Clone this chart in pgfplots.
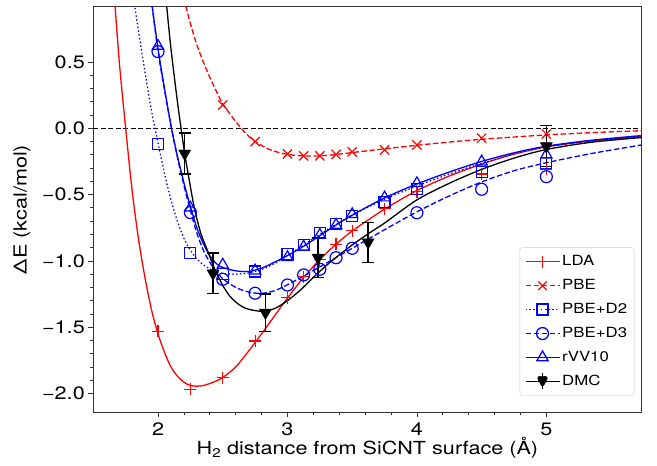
\documentclass[border=0pt]{standalone}
\usepackage{fontspec}
\setmainfont{TeX Gyre Heros}[FakeStretch=1.2]
\usepackage{pgfplots}
\pgfplotsset{compat=1.18}
\begin{document}
\begin{tikzpicture}
\useasboundingbox (0,0) rectangle (657pt,466pt);
\begin{axis}[
  at={(93.3pt,53.7pt)}, anchor=south west,
  scale only axis, width=548.2pt, height=405.6pt,
  xmin=1.5, xmax=5.735, ymin=-2.142, ymax=0.917,
  axis line style={black!80, line width=0.8pt},
  tick align=outside, tick pos=left,
  major tick length=5pt, minor tick length=2.8pt,
  every tick/.style={black!80, line width=0.7pt},
  xtick={2,3,4,5}, xticklabels={2,3,4,5},
  ytick={-2,-1.5,-1,-0.5,0,0.5}, yticklabels={−2.0,−1.5,−1.0,−0.5,0.0,0.5},
  minor x tick num=4, minor y tick num=4,
  ticklabel style={font=\fontsize{18}{20}\selectfont},
  xticklabel style={yshift=-2pt},
  xlabel={H\textsubscript{2} distance from SiCNT surface (Å)},
  ylabel={ΔE (kcal/mol)},
  label style={font=\fontsize{18}{20}\selectfont},
  xlabel style={at={(axis description cs:0.5,-0.105)}, anchor=base},
  ylabel style={at={(axis description cs:-0.13,0.5)}, anchor=center},
  legend style={at={(0.9869,0.0402)}, anchor=south east, draw=black!20, rounded corners=3pt, fill=white,
    font=\fontsize{14}{16}\selectfont, inner xsep=5pt, inner ysep=4pt, row sep=3pt,
    nodes={text height=11pt, text depth=3.5pt, inner ysep=3.2pt},
    /tikz/every even column/.append style={column sep=9pt}},
  legend cell align=left,
  legend image code/.code={\draw[mark repeat=2,mark phase=2,#1] plot coordinates {(0pt,0pt) (17pt,0pt) (34pt,0pt)};},
]
% zero line
\addplot[forget plot, black, line width=1.1pt, dash pattern=on 5pt off 2.5pt] coordinates {(1.5,0) (5.735,0)};

% LDA fit
\addplot[forget plot, red, line width=1.3pt, smooth, tension=0.5] coordinates {
(1.65,1.17) (1.70,0.51) (1.75,0.0) (1.80,-0.47) (1.85,-0.84) (1.90,-1.13) (1.95,-1.37) (2.0,-1.55)
(2.05,-1.69) (2.10,-1.80) (2.15,-1.87) (2.20,-1.915) (2.25,-1.94) (2.30,-1.945) (2.35,-1.94) (2.40,-1.925)
(2.45,-1.905) (2.50,-1.88) (2.60,-1.80) (2.70,-1.68) (2.80,-1.55) (2.90,-1.415) (3.00,-1.28) (3.125,-1.125)
(3.25,-0.99) (3.375,-0.875) (3.50,-0.775) (3.75,-0.61) (4.00,-0.47) (4.25,-0.36) (4.50,-0.27) (4.75,-0.195)
(5.00,-0.14) (5.35,-0.095) (5.735,-0.062)};
\addplot[forget plot, red, only marks, mark=+, mark size=6pt, line width=1.2pt] coordinates {
(2.0,-1.53) (2.25,-1.97) (2.5,-1.88) (2.75,-1.605) (3.0,-1.277) (3.125,-1.12) (3.25,-0.99) (3.375,-0.875)
(3.5,-0.772) (3.75,-0.607) (4.0,-0.478) (4.5,-0.345) (5.0,-0.31)};

% PBE fit
\addplot[forget plot, red, line width=1.3pt, dash pattern=on 5.5pt off 2.5pt, smooth, tension=0.5] coordinates {
(2.20,0.98) (2.215,0.92) (2.25,0.79) (2.30,0.63) (2.35,0.50) (2.40,0.385) (2.45,0.28) (2.50,0.185) (2.57,0.09)
(2.63,0.015) (2.69,-0.05) (2.75,-0.10) (2.85,-0.155) (2.95,-0.187) (3.05,-0.203) (3.15,-0.209) (3.25,-0.208)
(3.375,-0.198) (3.5,-0.183) (3.75,-0.155) (4.0,-0.128) (4.25,-0.104) (4.5,-0.083) (4.75,-0.066) (5.0,-0.05)
(5.35,-0.033) (5.735,-0.018)};
\addplot[forget plot, red, only marks, mark=x, mark size=6.5pt, line width=1.2pt] coordinates {
(2.5,0.176) (2.75,-0.10) (3.0,-0.194) (3.125,-0.208) (3.25,-0.208) (3.375,-0.197) (3.5,-0.178) (3.75,-0.163)
(4.0,-0.126) (4.5,-0.075) (5.0,-0.043)};

% PBE+D2 fit
\addplot[forget plot, blue, line width=1.3pt, dash pattern=on 1.4pt off 2.4pt, smooth, tension=0.5] coordinates {
(1.80,1.05) (1.82,0.92) (1.85,0.73) (1.90,0.42) (1.95,0.13) (2.0,-0.11) (2.05,-0.34) (2.10,-0.54) (2.15,-0.70)
(2.20,-0.83) (2.25,-0.92) (2.30,-0.985) (2.35,-1.03) (2.40,-1.06) (2.45,-1.08) (2.50,-1.095) (2.60,-1.10)
(2.70,-1.09) (2.80,-1.065) (2.90,-1.02) (3.0,-0.96) (3.125,-0.88) (3.25,-0.80) (3.375,-0.725) (3.5,-0.655)
(3.75,-0.535) (4.0,-0.435) (4.25,-0.345) (4.5,-0.265) (4.75,-0.195) (5.0,-0.14) (5.35,-0.095) (5.735,-0.06)};
\addplot[forget plot, blue, only marks, mark=square, mark size=5.5pt, line width=1.2pt] coordinates {
(2.0,-0.118) (2.25,-0.943) (2.5,-1.10) (2.75,-1.08) (3.0,-0.948) (3.125,-0.88) (3.25,-0.792) (3.375,-0.722)
(3.5,-0.661) (3.75,-0.553) (4.0,-0.46) (4.5,-0.327) (5.0,-0.259)};

% PBE+D3 fit
\addplot[forget plot, blue, line width=1.3pt, dash pattern=on 5.5pt off 2.5pt, smooth, tension=0.5] coordinates {
(1.94,1.05) (1.955,0.92) (2.0,0.58) (2.05,0.29) (2.104,0.0) (2.15,-0.22) (2.20,-0.43) (2.25,-0.62) (2.30,-0.79)
(2.35,-0.92) (2.40,-1.01) (2.45,-1.08) (2.50,-1.135) (2.60,-1.20) (2.70,-1.235) (2.80,-1.245) (2.90,-1.225)
(3.0,-1.18) (3.125,-1.115) (3.25,-1.045) (3.375,-0.975) (3.5,-0.905) (3.75,-0.765) (4.0,-0.63) (4.25,-0.51)
(4.5,-0.405) (4.75,-0.32) (5.0,-0.26) (5.35,-0.19) (5.735,-0.126)};
\addplot[forget plot, blue, only marks, mark=o, mark size=6pt, line width=1.2pt] coordinates {
(2.0,0.578) (2.25,-0.636) (2.5,-1.139) (2.75,-1.244) (3.0,-1.182) (3.125,-1.106) (3.25,-1.063) (3.375,-0.976)
(3.5,-0.905) (4.0,-0.637) (4.5,-0.46) (5.0,-0.365)};

% rVV10 fit
\addplot[forget plot, blue, line width=1.3pt, smooth, tension=0.5] coordinates {
(1.94,1.05) (1.955,0.92) (2.0,0.60) (2.05,0.30) (2.104,0.0) (2.15,-0.21) (2.20,-0.41) (2.25,-0.59) (2.30,-0.75)
(2.35,-0.87) (2.40,-0.96) (2.45,-1.02) (2.50,-1.05) (2.60,-1.075) (2.70,-1.08) (2.80,-1.055) (2.90,-1.01)
(3.0,-0.96) (3.125,-0.89) (3.25,-0.81) (3.375,-0.73) (3.5,-0.655) (3.75,-0.525) (4.0,-0.42) (4.25,-0.33)
(4.5,-0.25) (4.75,-0.185) (5.0,-0.135) (5.35,-0.09) (5.735,-0.055)};
\addplot[forget plot, blue, only marks, mark=triangle, mark size=6.5pt, line width=1.2pt] coordinates {
(2.0,0.62) (2.25,-0.60) (2.5,-1.03) (2.75,-1.074) (3.0,-0.973) (3.125,-0.893) (3.25,-0.805) (3.375,-0.729)
(3.5,-0.649) (3.75,-0.523) (4.0,-0.415) (4.5,-0.252) (5.0,-0.20)};

% DMC fit
\addplot[forget plot, black, line width=1.3pt, smooth, tension=0.5] coordinates {
(2.06,1.0) (2.067,0.92) (2.10,0.60) (2.15,0.20) (2.178,0.0) (2.206,-0.19) (2.25,-0.44) (2.284,-0.616) (2.33,-0.79)
(2.373,-0.90) (2.425,-1.03) (2.45,-1.09) (2.50,-1.185) (2.55,-1.26) (2.60,-1.31) (2.65,-1.345) (2.70,-1.365)
(2.80,-1.38) (2.90,-1.36) (3.0,-1.30) (3.1,-1.22) (3.2,-1.125) (3.3,-1.035) (3.4,-0.955) (3.5,-0.88)
(3.64,-0.785) (3.75,-0.715) (4.0,-0.54) (4.25,-0.415) (4.5,-0.31) (4.75,-0.225) (5.0,-0.16) (5.35,-0.105)
(5.735,-0.07)};
\addplot[forget plot, black, only marks, mark=triangle*, mark size=7pt, mark options={rotate=180},
  error bars/.cd, y dir=both, y explicit, error bar style={line width=1.3pt, black},
  error mark options={rotate=90, mark size=6pt, line width=1.3pt, black}]
  table[x=x, y=y, y error=e] {
x y e
2.206 -0.19 0.155
2.425 -1.094 0.153
2.83 -1.39 0.14
3.236 -0.975 0.148
3.623 -0.86 0.152
5.0 -0.134 0.155
};

\addlegendimage{red, line width=1.3pt, mark=+, mark size=6pt}
\addlegendentry{LDA}
\addlegendimage{red, line width=1.3pt, dash pattern=on 5.5pt off 2.5pt, mark=x, mark size=6pt, mark options={solid}}
\addlegendentry{PBE}
\addlegendimage{blue, line width=1.3pt, dash pattern=on 1.4pt off 2.4pt, mark=square, mark size=5.5pt, mark options={solid}}
\addlegendentry{PBE+D2}
\addlegendimage{blue, line width=1.3pt, dash pattern=on 5.5pt off 2.5pt, mark=o, mark size=6pt, mark options={solid}}
\addlegendentry{PBE+D3}
\addlegendimage{blue, line width=1.3pt, mark=triangle, mark size=6.5pt}
\addlegendentry{rVV10}
\addlegendimage{legend image code/.code={
  \draw[black, line width=1.4pt] (0pt,0pt) -- (34pt,0pt);
  \draw[black, line width=1.3pt] (17pt,-8pt) -- (17pt,8pt);
  \fill[black] (17pt,-6.5pt) -- (11pt,5pt) -- (23pt,5pt) -- cycle;}}
\addlegendentry{DMC}
\end{axis}
\end{tikzpicture}
\end{document}
